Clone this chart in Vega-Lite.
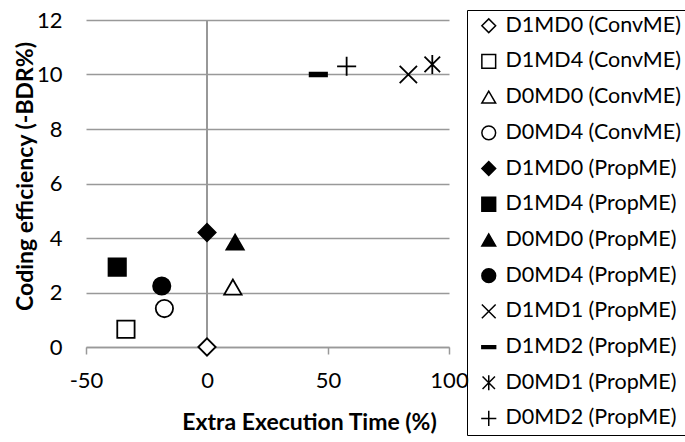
{
  "$schema": "https://vega.github.io/schema/vega-lite/v6.json",
  "autosize": "none",
  "width": 363,
  "height": 327,
  "padding": {"left": 86, "top": 20, "right": 236, "bottom": 95},
  "background": "white",
  "config": {
    "font": "Lato",
    "view": {"stroke": null},
    "axis": {"labelFont": "Lato", "titleFont": "Lato", "labelColor": "#000", "titleColor": "#000"}
  },
  "data": {
    "values": [
      {"series": "D1MD0 (ConvME)", "x": 0, "y": 0},
      {"series": "D1MD4 (ConvME)", "x": -33.5, "y": 0.65},
      {"series": "D0MD0 (ConvME)", "x": 10.7, "y": 2.2},
      {"series": "D0MD4 (ConvME)", "x": -17.6, "y": 1.41},
      {"series": "D1MD0 (PropME)", "x": 0, "y": 4.2},
      {"series": "D1MD4 (PropME)", "x": -37.1, "y": 2.93},
      {"series": "D0MD0 (PropME)", "x": 11.6, "y": 3.85},
      {"series": "D0MD4 (PropME)", "x": -18.7, "y": 2.24},
      {"series": "D1MD1 (PropME)", "x": 83.2, "y": 10.0},
      {"series": "D1MD2 (PropME)", "x": 46, "y": 10.0},
      {"series": "D0MD1 (PropME)", "x": 93.1, "y": 10.37},
      {"series": "D0MD2 (PropME)", "x": 57.7, "y": 10.3}
    ]
  },
  "layer": [
    {
      "mark": {"type": "rule", "color": "#999", "strokeWidth": 1.5},
      "encoding": {"x": {"datum": 0, "type": "quantitative"}}
    },
    {
      "mark": {"type": "point", "filled": true, "stroke": "black", "strokeWidth": 1.8, "size": 300, "opacity": 1},
      "encoding": {
        "x": {
          "field": "x", "type": "quantitative",
          "scale": {"domain": [-50, 100], "nice": false, "zero": false},
          "axis": {
            "values": [-50, 0, 50, 100], "grid": false, "domainColor": "#999", "domainWidth": 1.5,
            "tickColor": "#999", "tickWidth": 1.5, "tickSize": 7, "labelPadding": 16,
            "labelExpr": "'' + datum.value",
            "labelFontSize": 22, "title": "Extra Execution Time (%)", "titleFontSize": 23,
            "titleFontWeight": "bold", "titleX": 223, "titleY": 75, "titleBaseline": "middle",
            "titleAnchor": null, "labelFlush": false
          }
        },
        "y": {
          "field": "y", "type": "quantitative",
          "scale": {"domain": [0, 12], "nice": false},
          "axis": {
            "values": [0, 2, 4, 6, 8, 10, 12], "domain": false, "ticks": false, "tickSize": 0,
            "grid": true, "gridColor": "#999", "gridWidth": 1.5, "labelPadding": 24,
            "labelFontSize": 22, "title": "Coding efficiency (-BDR%)", "titleFontSize": 23,
            "titleFontWeight": "bold", "titleX": -61, "titleY": 156, "titleBaseline": "middle",
            "titleAnchor": null
          }
        },
        "shape": {
          "field": "series", "type": "nominal",
          "scale": {
            "domain": ["D1MD0 (ConvME)", "D1MD4 (ConvME)", "D0MD0 (ConvME)", "D0MD4 (ConvME)", "D1MD0 (PropME)", "D1MD4 (PropME)", "D0MD0 (PropME)", "D0MD4 (PropME)", "D1MD1 (PropME)", "D1MD2 (PropME)", "D0MD1 (PropME)", "D0MD2 (PropME)"],
            "range": ["diamond", "square", "triangle-up", "circle", "diamond", "square", "triangle-up", "circle", "M-1,-1L1,1M-1,1L1,-1", "M-1,-0.2H1V0.2H-1Z", "M-0.9,-0.9L0.9,0.9M-0.9,0.9L0.9,-0.9M0,-1.1V1.1", "M-1.1,0H1.1M0,-1.1V1.1"]
          },
          "legend": {
            "title": null, "orient": "none", "legendX": 381, "legendY": -10,
            "strokeColor": "black", "padding": 5, "symbolOffset": 6, "labelFontSize": 21.5, "labelFont": "Lato",
            "labelColor": "#000", "symbolSize": 190, "symbolStrokeWidth": 1.5, "rowPadding": 12.7,
            "labelOffset": 6, "labelLimit": 300
          }
        },
        "fill": {
          "field": "series", "type": "nominal",
          "scale": {
            "domain": ["D1MD0 (ConvME)", "D1MD4 (ConvME)", "D0MD0 (ConvME)", "D0MD4 (ConvME)", "D1MD0 (PropME)", "D1MD4 (PropME)", "D0MD0 (PropME)", "D0MD4 (PropME)", "D1MD1 (PropME)", "D1MD2 (PropME)", "D0MD1 (PropME)", "D0MD2 (PropME)"],
            "range": ["white", "white", "white", "white", "black", "black", "black", "black", "black", "black", "black", "black"]
          },
          "legend": {
            "title": null, "orient": "none", "legendX": 381, "legendY": -10,
            "strokeColor": "black", "padding": 5, "symbolOffset": 6, "labelFontSize": 21.5, "labelFont": "Lato",
            "labelColor": "#000", "symbolSize": 190, "symbolStrokeWidth": 1.5, "rowPadding": 12.7,
            "labelOffset": 6, "labelLimit": 300
          }
        }
      }
    }
  ]
}
